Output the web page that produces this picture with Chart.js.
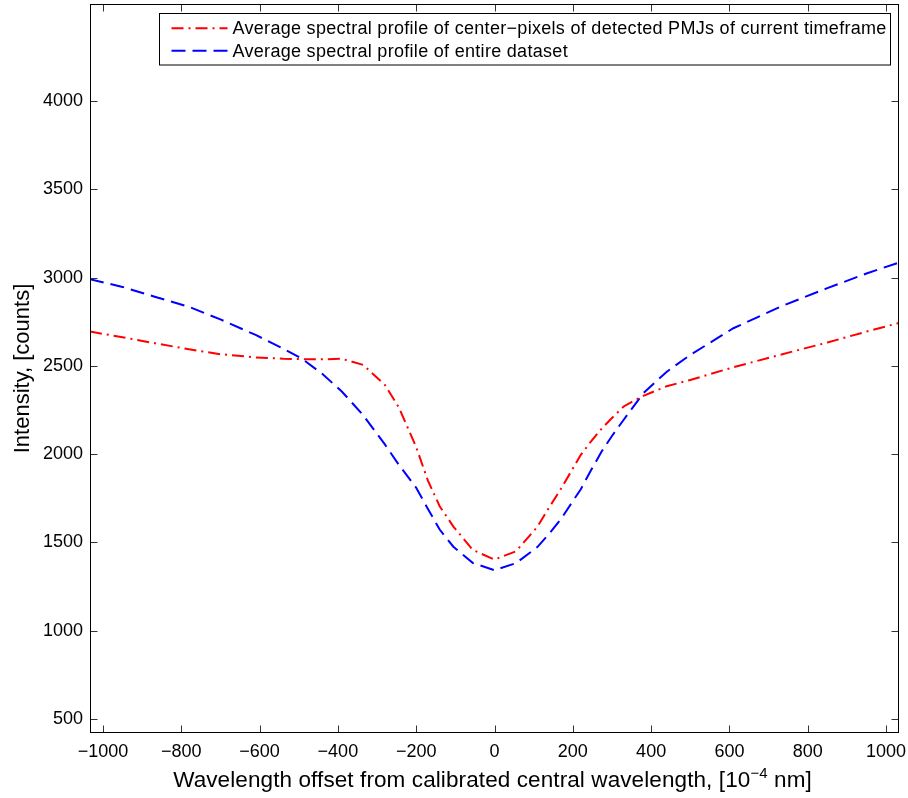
<!DOCTYPE html>
<html>
<head>
<meta charset="utf-8">
<script src="https://cdn.jsdelivr.net/npm/chart.js"></script>
<style>
  html, body { margin: 0; padding: 0; background: #fff; }
  #wrap { width: 908px; height: 798px; }
</style>
</head>
<body>
<div id="wrap"><canvas id="profileChart"></canvas></div>
<script>
// wavelength offsets [1e-4 nm] and mean intensities [counts]
const wavelengthOffsets = [-1033, -950, -870, -780, -700, -610, -540, -490, -440, -390, -335, -280, -245, -200, -170, -140, -105, -55, 0,
  55, 110, 140, 170, 200, 220, 245, 275, 300, 330, 350, 380, 440, 500, 610, 730, 850, 950, 1033];
const pmjIntensity = [2694, 2662, 2629, 2594, 2566, 2548, 2540, 2538, 2537, 2540, 2505, 2392, 2268, 2040, 1850, 1705, 1590, 1457, 1403,
  1450, 1590, 1700, 1805, 1918, 1995, 2068, 2148, 2205, 2270, 2295, 2330, 2385, 2420, 2492, 2563, 2632, 2694, 2743];
const datasetIntensity = [2990, 2947, 2893, 2834, 2763, 2675, 2598, 2538, 2455, 2355, 2220, 2055, 1942, 1810, 1690, 1573, 1476, 1383, 1343,
  1383, 1475, 1550, 1633, 1734, 1800, 1903, 2020, 2103, 2195, 2255, 2345, 2467, 2562, 2713, 2835, 2940, 3023, 3085];
const xTicks = [-1000, -800, -600, -400, -200, 0, 200, 400, 600, 800, 1000];
const yTicks = [500, 1000, 1500, 2000, 2500, 3000, 3500, 4000];

const FONT = '"Liberation Sans", Arial, Helvetica, sans-serif';
Chart.defaults.font.family = FONT;
Chart.defaults.color = '#000';

const toPoints = ys => ys.map((y, i) => ({ x: wavelengthOffsets[i], y }));

// axes box with inward tick marks on all four sides
const boxPlugin = {
  id: 'box',
  afterDraw(chart) {
    const { ctx, chartArea: a, scales } = chart;
    const L = Math.round(a.left) + 0.5, R = Math.round(a.right) - 0.5;
    const T = Math.round(a.top) + 0.5, B = Math.round(a.bottom) - 0.5;
    ctx.save();
    ctx.strokeStyle = '#333';
    ctx.lineWidth = 1;
    ctx.beginPath();
    scales.x.ticks.forEach(t => {
      const px = Math.round(scales.x.getPixelForValue(t.value)) + 0.5;
      ctx.moveTo(px, B); ctx.lineTo(px, B - 7);
      ctx.moveTo(px, T); ctx.lineTo(px, T + 7);
    });
    scales.y.ticks.forEach(t => {
      const py = Math.round(scales.y.getPixelForValue(t.value)) + 0.5;
      ctx.moveTo(L, py); ctx.lineTo(L + 7, py);
      ctx.moveTo(R, py); ctx.lineTo(R - 7, py);
    });
    ctx.stroke();
    ctx.strokeStyle = '#000';
    ctx.strokeRect(L, T, R - L, B - T);
    ctx.restore();
  }
};

// boxed legend in the upper right corner
const legendBoxPlugin = {
  id: 'legendBox',
  afterDraw(chart) {
    const { ctx, chartArea: a } = chart;
    const sets = chart.data.datasets;
    ctx.save();
    ctx.font = '18px ' + FONT;
    ctx.letterSpacing = '0.3px';
    const textW = Math.max(...sets.map(d => ctx.measureText(d.label).width));
    const right = a.right - 8.5, top = 13.5, rowH = 22.4;
    const w = 12 + 56 + 5 + textW + 4, h = 51.5;
    const left = Math.round(right - w) + 0.5;
    ctx.fillStyle = '#fff';
    ctx.fillRect(left, top, right - left, h);
    ctx.strokeStyle = '#000';
    ctx.lineWidth = 1;
    ctx.strokeRect(left, top, right - left, h);
    sets.forEach((d, i) => {
      const y = top + 14.8 + i * rowH;
      ctx.strokeStyle = d.borderColor;
      ctx.lineWidth = d.borderWidth;
      ctx.setLineDash(d.borderDash);
      ctx.beginPath();
      ctx.moveTo(left + 12, y);
      ctx.lineTo(left + 68, y);
      ctx.stroke();
      ctx.setLineDash([]);
      ctx.fillStyle = '#000';
      ctx.textBaseline = 'middle';
      ctx.fillText(d.label, left + 73, y + 1);
    });
    ctx.restore();
  }
};

// x axis title with a superscript exponent
const xTitlePlugin = {
  id: 'xTitle',
  afterDraw(chart) {
    const { ctx, chartArea: a } = chart;
    const main = 'Wavelength offset from calibrated central wavelength, [10';
    const sup = '\u22124';
    const tail = ' nm]';
    ctx.save();
    ctx.fillStyle = '#000';
    ctx.textBaseline = 'alphabetic';
    const big = '22.5px ' + FONT, small = '15px ' + FONT;
    ctx.font = big;
    ctx.letterSpacing = '0.1px';
    const w1 = ctx.measureText(main).width, w3 = ctx.measureText(tail).width;
    ctx.font = small;
    const w2 = ctx.measureText(sup).width;
    let x = (a.left + a.right) / 2 - (w1 + w2 + w3) / 2 - 2;
    const y = 787;
    ctx.font = big; ctx.fillText(main, x, y); x += w1;
    ctx.font = small; ctx.fillText(sup, x, y - 9); x += w2;
    ctx.font = big; ctx.fillText(tail, x, y);
    ctx.restore();
  }
};

new Chart(document.getElementById('profileChart'), {
  type: 'line',
  data: {
    datasets: [{
      label: 'Average spectral profile of center\u2212pixels of detected PMJs of current timeframe',
      data: toPoints(pmjIntensity),
      borderColor: '#ff0000',
      borderWidth: 2,
      borderDash: [12, 5, 2, 5],
      pointRadius: 0,
      tension: 0,
      fill: false
    }, {
      label: 'Average spectral profile of entire dataset',
      data: toPoints(datasetIntensity),
      borderColor: '#0000ff',
      borderWidth: 2,
      borderDash: [14, 7],
      pointRadius: 0,
      tension: 0,
      fill: false
    }]
  },
  options: {
    responsive: true,
    maintainAspectRatio: false,
    animation: false,
    devicePixelRatio: 1,
    layout: { padding: { top: 4, right: 9, left: 0, bottom: 0 } },
    plugins: { legend: { display: false }, tooltip: { enabled: false } },
    scales: {
      x: {
        type: 'linear',
        min: -1033,
        max: 1033,
        afterBuildTicks: s => { s.ticks = xTicks.map(v => ({ value: v })); },
        afterFit: s => { s.height = 65; s.paddingLeft = 0; s.paddingRight = 0; },
        grid: { display: false, drawTicks: false },
        border: { display: false },
        ticks: {
          padding: 8,
          font: { size: 18 },
          callback: v => String(v).replace('-', '\u2212')
        }
      },
      y: {
        type: 'linear',
        min: 421,
        max: 4549,
        afterBuildTicks: s => { s.ticks = yTicks.map(v => ({ value: v })); },
        afterFit: s => { s.width = 90; s.paddingTop = 0; s.paddingBottom = 0; },
        grid: { display: false, drawTicks: false },
        border: { display: false },
        ticks: { padding: 7, font: { size: 18 }, callback: v => String(v) },
        title: {
          display: true,
          text: 'Intensity, [counts]',
          font: { size: 22 },
          padding: { top: 10, bottom: 0 }
        }
      }
    }
  },
  plugins: [boxPlugin, legendBoxPlugin, xTitlePlugin]
});
</script>
</body>
</html>
